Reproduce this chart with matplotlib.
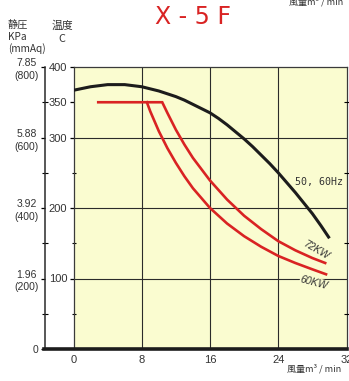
import matplotlib
matplotlib.use("Agg")
import matplotlib.pyplot as plt
from matplotlib.lines import Line2D

flow_fan = [0, 2, 4, 6, 8, 9, 10, 11, 12, 13, 14, 15, 16, 17, 18, 19, 20,
            21, 22, 23, 24, 25, 26, 27, 28, 29, 30]
temp_fan = [367, 372, 375, 375, 372, 369, 366, 362, 358, 353, 347, 341, 335,
            327, 318, 308, 298, 287, 275, 263, 250, 236, 222, 207, 192, 175, 157]

flow_72kw = [2.9, 10.4, 11, 12, 13, 14, 16, 18, 20, 22, 24, 26, 28, 29.5]
temp_72kw = [350, 350, 335, 311, 290, 271, 239, 212, 189, 170, 153, 140, 129, 122]

flow_60kw = [8.6, 9, 10, 11, 12, 13, 14, 16, 18, 20, 22, 24, 26, 28, 29.6]
temp_60kw = [350, 337, 309, 285, 264, 245, 228, 200, 178, 160, 145, 132, 122, 113, 106]

flow_ticks = [0, 8, 16, 24, 32]
temp_ticks = [100, 200, 300, 350, 400]
temp_minor = [50, 150, 250]
temp_grid = [100, 200, 300]
flow_grid = [8, 16, 24]
press_ticks = [0, 1.96, 3.92, 5.88, 7.85]
press_labels = ["0", "1.96\n(200)", "3.92\n(400)", "5.88\n(600)", "7.85\n(800)"]
press_minor = [0.98, 2.94, 4.90, 6.87]

plt.rcParams["font.family"] = ["Liberation Sans", "DejaVu Sans"]
RED = "#d92323"
INK = "#333333"
W, H = 349, 381

fig = plt.figure(figsize=(W / 100, H / 100), dpi=100)
ax = fig.add_axes([73.5 / W, 32 / H, 273 / W, 282 / H])
ax.set_facecolor("#fafcd0")
ax.set_xlim(0, 32)
ax.set_ylim(0, 400)

for g in flow_grid:
    ax.axvline(g, color="#2b2b2b", lw=0.8, zorder=1)
for g in temp_grid:
    ax.axhline(g, color="#2b2b2b", lw=0.8, zorder=1)

ax.plot(flow_fan, temp_fan, color="#1c1c1c", lw=2.2, zorder=3, solid_capstyle="butt")
ax.plot(flow_72kw, temp_72kw, color=RED, lw=1.9, zorder=3, solid_joinstyle="miter")
ax.plot(flow_60kw, temp_60kw, color=RED, lw=1.9, zorder=3, solid_joinstyle="miter")

ax.text(28.8, 237, "50, 60Hz", family="DejaVu Sans Mono", fontsize=7.2,
        color=INK, ha="center", va="center", zorder=4)
ax.text(28.5, 140, "72KW", fontsize=7.5, style="italic", color=INK,
        ha="center", va="center", rotation=-30, zorder=4)
ax.text(28.2, 94, "60KW", fontsize=7.5, style="italic", color=INK,
        ha="center", va="center", rotation=-15, zorder=4,
        bbox=dict(boxstyle="square,pad=0.05", fc="#fafcd0", ec="none"))

ax.set_xticks(flow_ticks)
ax.set_yticks(temp_ticks)
ax.set_yticks(temp_minor, minor=True)
ax.tick_params(axis="x", length=0, pad=4.5, labelsize=8, labelcolor=INK)
ax.tick_params(axis="y", which="major", direction="out", length=3, width=0.9,
               pad=1.5, labelsize=8, labelcolor=INK)
ax.tick_params(axis="y", which="minor", direction="inout", length=3, width=0.8)
for s in ["top", "right", "left"]:
    ax.spines[s].set_linewidth(0.9)
    ax.spines[s].set_color("#3a3a3a")
ax.spines["bottom"].set_visible(False)

# static pressure axis on the far left
ax2 = ax.twinx()
ax2.set_ylim(0, 7.85)
ax2.patch.set_visible(False)
for s in ["top", "bottom", "right"]:
    ax2.spines[s].set_visible(False)
ax2.spines["left"].set_position(("outward", 20.2))
ax2.spines["left"].set_linewidth(1.1)
ax2.spines["left"].set_color("#2a2a2a")
ax2.yaxis.set_ticks_position("both")
ax2.yaxis.set_label_position("left")
ax2.set_yticks(press_ticks)
ax2.set_yticklabels(press_labels)
ax2.set_yticks(press_minor, minor=True)
ax2.tick_params(axis="y", which="major", left=True, right=False, labelleft=True,
                labelright=False, direction="out", length=3, width=0.9, pad=2,
                labelsize=7.5, labelcolor=INK)
ax2.tick_params(axis="y", which="minor", left=True, right=True, direction="inout",
                length=4, width=0.8)
for lab in ax2.get_yticklabels():
    lab.set_multialignment("center")
    lab.set_linespacing(1.35)

# heavy base line running under both axes
fig.add_artist(Line2D([44 / W, 347 / W], [32 / H, 32 / H], color="#1c1c1c", lw=2.6))

fig.text(193 / W, 1 - 17 / H, "X - 5 F", color=RED, fontsize=17,
         family="DejaVu Sans", ha="center", va="center")
cjk = ["Noto Sans CJK JP", "DejaVu Sans"]
fig.text(8 / W, 1 - 20 / H, "静圧\nKPa\n(mmAq)", family=cjk, fontsize=7.3,
         color=INK, ha="left", va="top", linespacing=1.2)
fig.text(62 / W, 1 - 20 / H, "温度\nC", family=cjk, fontsize=7.8,
         color=INK, ha="center", va="top", linespacing=1.45)
fig.text(287 / W, 1 - 369 / H, "風量m³ / min", family=cjk, fontsize=6.5,
         color=INK, ha="left", va="center")
fig.text(289 / W, 1 - 2 / H, "風量m³ / min", family=cjk, fontsize=6.5,
         color=INK, ha="left", va="center")

fig.savefig("out.png", dpi=100, facecolor="white")
